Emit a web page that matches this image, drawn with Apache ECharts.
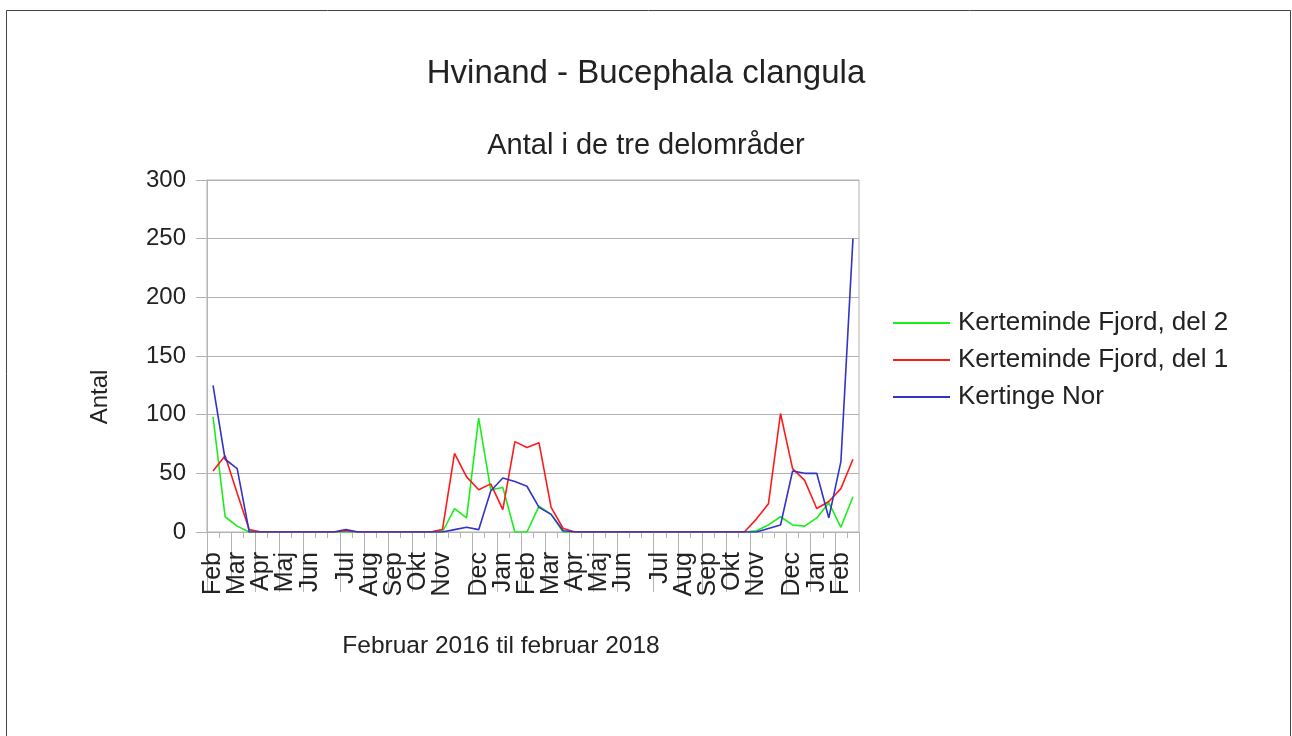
<!DOCTYPE html>
<html>
<head>
<meta charset="utf-8">
<title>Hvinand</title>
<script src="https://cdn.jsdelivr.net/npm/echarts@6/dist/echarts.min.js"></script>
<style>
  html, body { margin: 0; padding: 0; background: #fff; }
  #chart { width: 1292px; height: 736px; }
</style>
</head>
<body>
<div id="chart"></div>
<script>
  // kategorier: kun første optælling i hver måned har et navn
  var months = ['Feb','','Mar','','Apr','','Maj','','Jun','','','Jul','','Aug','','Sep','','Okt','','Nov','','','Dec','','Jan','',
    'Feb','','Mar','','Apr','','Maj','','Jun','','','Jul','','Aug','','Sep','','Okt','','Nov','','','Dec','','Jan','','Feb','']
  var fjordDel2 = [98,13,5,0,0,0,0,0,0,0,0,0,0,0,0,0,0,0,0,0,20,12,97,36,38,0,0,22,15,0,
    0,0,0,0,0,0,0,0,0,0,0,0,0,0,0,1,6,13,6,5,12,25,4,30]
  var fjordDel1 = [52,65,33,2,0,0,0,0,0,0,0,1,0,0,0,0,0,0,0,2,67,47,36,41,19,77,72,76,21,3,
    0,0,0,0,0,0,0,0,0,0,0,0,0,0,0,11,24,101,54,44,20,26,37,62]
  var kertingeNor = [125,62,54,0,0,0,0,0,0,0,0,2,0,0,0,0,0,0,0,0,2,4,2,35,46,43,39,21,15,1,
    0,0,0,0,0,0,0,0,0,0,0,0,0,0,0,0,3,6,52,50,50,12,60,250]
  var yTicks = [0, 50, 100, 150, 200, 250, 300]

  var font = 'Liberation Sans'
  var grey = '#b3b3b3'
  var myChart = echarts.init(document.getElementById('chart'))

  myChart.setOption({
    backgroundColor: '#fff',
    animation: false,
    color: ['#1aee1a', '#ff1a1a', '#3333c8'],
    title: [
      {
        text: 'Hvinand - Bucephala clangula',
        left: 'center',
        top: 52,
        textStyle: { fontFamily: font, fontSize: 33, fontWeight: 'normal', color: '#222' }
      },
      {
        text: 'Antal i de tre delområder',
        left: 'center',
        top: 126,
        textStyle: { fontFamily: font, fontSize: 29, fontWeight: 'normal', color: '#222' }
      }
    ],
    legend: {
      orient: 'vertical',
      left: 893,
      top: 308,
      padding: 0,
      icon: 'rect',
      itemWidth: 57,
      itemHeight: 2,
      itemGap: 7,
      textStyle: { fontFamily: font, fontSize: 26, color: '#222', lineHeight: 30, padding: [0, 0, 0, 3] },
      data: ['Kerteminde Fjord, del 2', 'Kerteminde Fjord, del 1', 'Kertinge Nor']
    },
    grid: {
      left: 207,
      right: 433,
      top: 180,
      bottom: 204,
      show: true,
      borderColor: grey,
      borderWidth: 1
    },
    xAxis: [
      {
        type: 'category',
        position: 'bottom',
        data: months,
        boundaryGap: true,
        axisLine: { show: true, lineStyle: { color: grey } },
        axisTick: { show: true, interval: 0, length: 6, lineStyle: { color: grey } },
        axisLabel: {
          interval: 0,
          rotate: 90,
          margin: 20,
          fontFamily: font,
          fontSize: 25,
          color: '#222'
        }
      },
      {
        // lange streger ved hver måned
        type: 'category',
        position: 'bottom',
        data: months,
        boundaryGap: true,
        axisLine: { show: false },
        axisTick: {
          show: true,
          interval: function (i) { return months[i] !== '' },
          length: 60,
          lineStyle: { color: grey }
        },
        axisLabel: { show: false }
      }
    ],
    yAxis: {
      type: 'value',
      min: yTicks[0],
      max: yTicks[yTicks.length - 1],
      interval: 50,
      axisLine: { show: true, lineStyle: { color: grey } },
      axisTick: { show: true, length: 11, lineStyle: { color: grey } },
      splitLine: { lineStyle: { color: grey } },
      axisLabel: { margin: 21, fontFamily: font, fontSize: 24, color: '#222' }
    },
    graphic: [
      {
        type: 'rect',
        shape: { x: 6.5, y: 10.5, width: 1284, height: 800 },
        style: { fill: 'none', stroke: '#444', lineWidth: 1 },
        silent: true
      },
      {
        type: 'text',
        x: 100,
        y: 397,
        rotation: Math.PI / 2,
        style: { text: 'Antal', fontFamily: font, fontSize: 24, fill: '#222', align: 'center', verticalAlign: 'middle' }
      },
      {
        type: 'text',
        x: 501,
        y: 646,
        style: { text: 'Februar 2016 til februar 2018', fontFamily: font, fontSize: 24.5, fill: '#222', align: 'center', verticalAlign: 'middle' }
      }
    ],
    series: [
      {
        name: 'Kerteminde Fjord, del 2',
        type: 'line',
        data: fjordDel2,
        symbol: 'none',
        lineStyle: { width: 1.6 }
      },
      {
        name: 'Kerteminde Fjord, del 1',
        type: 'line',
        data: fjordDel1,
        symbol: 'none',
        lineStyle: { width: 1.6 }
      },
      {
        name: 'Kertinge Nor',
        type: 'line',
        data: kertingeNor,
        symbol: 'none',
        lineStyle: { width: 1.6 }
      }
    ]
  })
</script>
</body>
</html>
